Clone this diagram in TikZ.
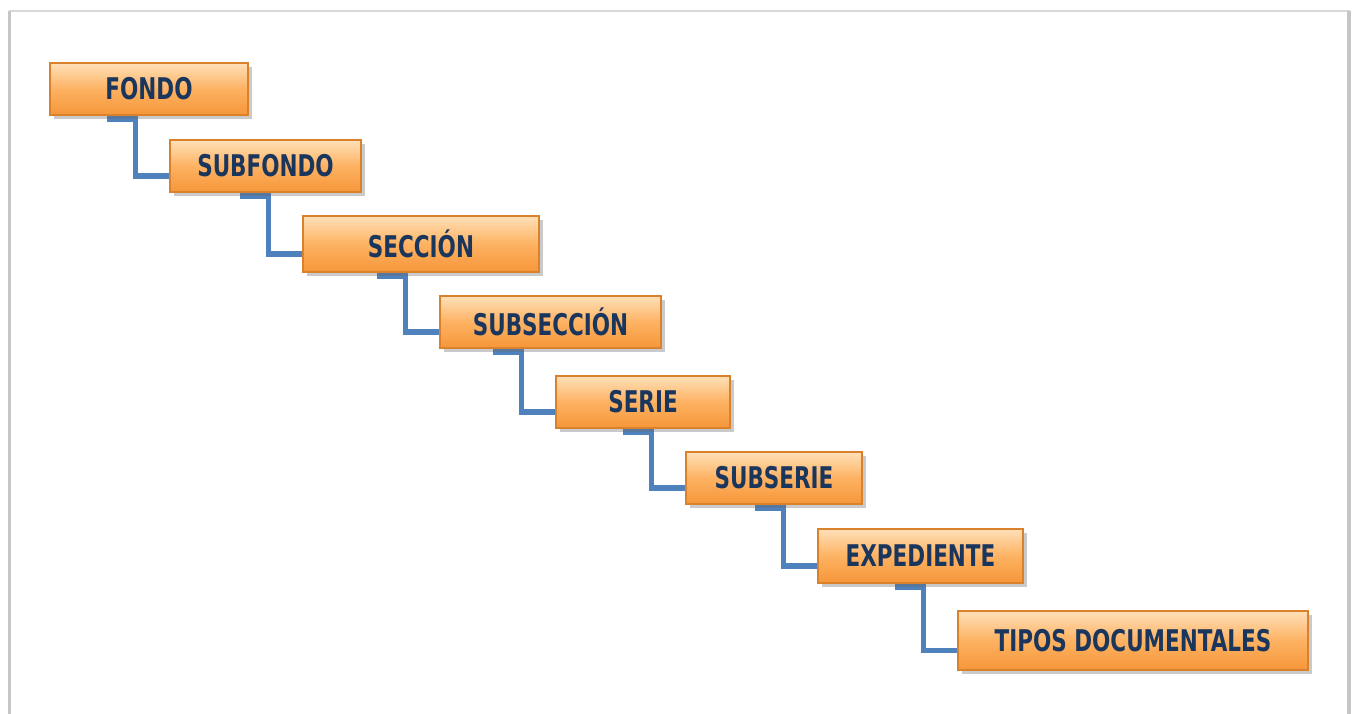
\documentclass[tikz,border=0pt]{standalone}
\usepackage{fontspec}
\newfontfamily\boxfont[FakeStretch=0.72]{DejaVu Sans}
\usetikzlibrary{shadows,backgrounds}

\definecolor{navytext}{HTML}{1B365D}
\definecolor{naranjaTop}{HTML}{FFE0B8}
\definecolor{naranjaMid}{HTML}{FDB262}
\definecolor{naranjaBot}{HTML}{F6963A}
\definecolor{bordeCaja}{HTML}{D9822B}
\definecolor{azulLink}{HTML}{4F81BD}

\begin{document}
\begin{tikzpicture}[
    caja/.style={draw=bordeCaja, line width=0.6pt, inner sep=0pt,
        top color=naranjaTop, bottom color=naranjaBot, middle color=naranjaMid,
        drop shadow={shadow xshift=2pt, shadow yshift=-2pt, opacity=0.35, fill=black!60},
        font=\boxfont\bfseries\fontsize{17}{19}\selectfont, text=navytext},
    enlace/.style={draw=azulLink, line width=2.9pt}
]
    % marco y area
    \useasboundingbox (0,0) rectangle (27.14,-14.26);
    \draw[gray!30, line width=0.8pt] (0.19,-0.22) rectangle (26.98,-14.4);
    \draw[gray!45, line width=2pt] (0.19,-0.22) -- (0.19,-14.4);
    \draw[gray!45, line width=2pt] (26.98,-0.22) -- (26.98,-14.4);

    % cajas de la escalera
    \node[caja, minimum width=3.96cm, minimum height=1.04cm] (fondo) at (2.98,-1.78) {FONDO};
    \node[caja, minimum width=3.82cm, minimum height=1.04cm] (subfondo) at (5.31,-3.32) {SUBFONDO};
    \node[caja, minimum width=4.72cm, minimum height=1.12cm] (seccion) at (8.42,-4.88) {SECCIÓN};
    \node[caja, minimum width=4.42cm, minimum height=1.04cm] (subseccion) at (11.01,-6.44) {SUBSECCIÓN};
    \node[caja, minimum width=3.48cm, minimum height=1.04cm] (serie) at (12.86,-8.04) {SERIE};
    \node[caja, minimum width=3.52cm, minimum height=1.04cm] (subserie) at (15.48,-9.56) {SUBSERIE};
    \node[caja, minimum width=4.10cm, minimum height=1.08cm] (expediente) at (18.41,-11.12) {EXPEDIENTE};
    \node[caja, minimum width=7.00cm, minimum height=1.18cm] (tipos) at (22.66,-12.81) {TIPOS DOCUMENTALES};

    % conectores en escuadra (detras de las cajas)
    \begin{scope}[on background layer]
    \foreach \a/\b in {fondo/subfondo, subfondo/seccion, seccion/subseccion,
        subseccion/serie, serie/subserie, subserie/expediente, expediente/tipos} {
        \draw[enlace] (\b.west |- \a.south) ++(-1.24,-0.07) -- ++(0.56,0)
            |- ([yshift=-0.2cm]\b.west);
    }
    \end{scope}
\end{tikzpicture}
\end{document}
